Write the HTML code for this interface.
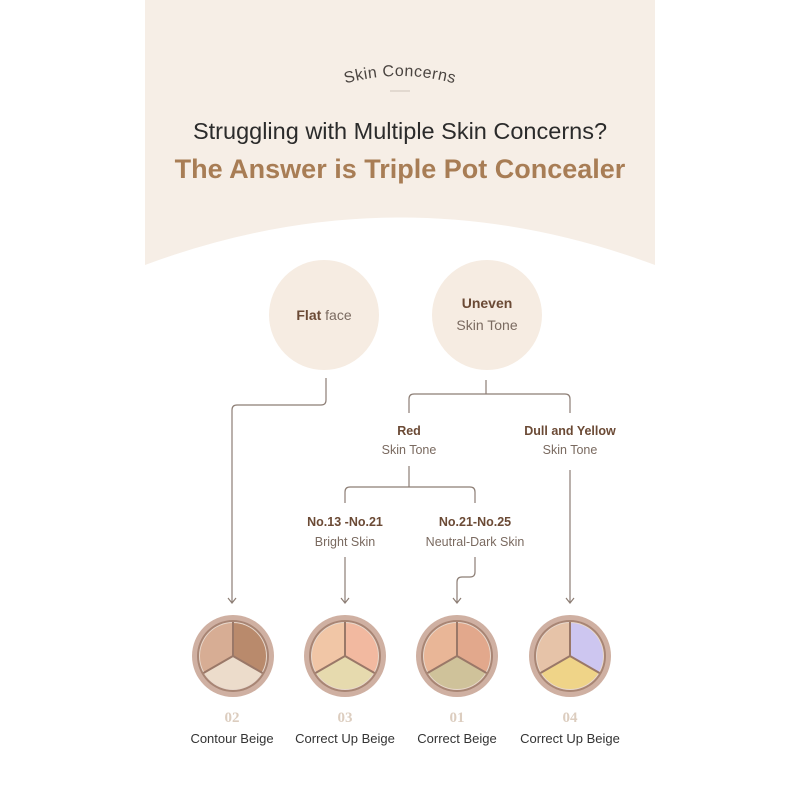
<!DOCTYPE html>
<html><head><meta charset="utf-8"><style>
html,body{margin:0;padding:0;background:#fff;width:800px;height:800px;overflow:hidden}
svg{display:block}
</style></head><body>
<svg width="800" height="800" viewBox="0 0 800 800" xmlns="http://www.w3.org/2000/svg" font-family="Liberation Sans, sans-serif">
<defs>
<path id="arc" d="M320,92 Q400,60 480,92"/>
</defs>
<path d="M145,0 H655 V265 Q400,170 145,265 Z" fill="#f6eee6"/>
<text font-size="16" fill="#4a4440" letter-spacing="0.5"><textPath href="#arc" startOffset="50%" text-anchor="middle">Skin Concerns</textPath></text>
<line x1="390" y1="91" x2="410" y2="91" stroke="#cfc4ba" stroke-width="1"/>
<text x="400" y="139" font-size="23.5" fill="#2b2b2b" text-anchor="middle" font-weight="500">Struggling with Multiple Skin Concerns?</text>
<text x="400" y="178" font-size="27" fill="#a87d55" text-anchor="middle" font-weight="bold">The Answer is Triple Pot Concealer</text>

<circle cx="324" cy="315" r="55" fill="#f6ece2"/>
<circle cx="487" cy="315" r="55" fill="#f6ece2"/>
<text x="324" y="320" font-size="14" text-anchor="middle" fill="#7a6a60"><tspan font-weight="bold" fill="#6b4a35">Flat</tspan> face</text>
<text x="487" y="308" font-size="14" text-anchor="middle" font-weight="bold" fill="#6b4a35">Uneven</text>
<text x="487" y="330" font-size="14" text-anchor="middle" fill="#7a6a60">Skin Tone</text>

<g fill="none" stroke="#8c7d74" stroke-width="1.2">
<path d="M326,378 V400 Q326,405 321,405 H237 Q232,405 232,410 V602"/>
<path d="M486,380 V394"/>
<path d="M409,413 V399 Q409,394 414,394 H565 Q570,394 570,399 V413"/>
<path d="M409,466 V487"/>
<path d="M345,503 V492 Q345,487 350,487 H470 Q475,487 475,492 V503"/>
<path d="M345,557 V602"/>
<path d="M475,557 V572 Q475,577 470,577 H462 Q457,577 457,582 V602"/>
<path d="M570,470 V602"/>
<path d="M228,598 L232,603 L236,598 M341,598 L345,603 L349,598 M453,598 L457,603 L461,598 M566,598 L570,603 L574,598"/>
</g>

<g font-size="12.5" text-anchor="middle">
<text x="409" y="435" font-weight="bold" fill="#6b4a35">Red</text>
<text x="409" y="454" fill="#7a6a60">Skin Tone</text>
<text x="570" y="435" font-weight="bold" fill="#6b4a35">Dull and Yellow</text>
<text x="570" y="454" fill="#7a6a60">Skin Tone</text>
<text x="345" y="526" font-weight="bold" fill="#6b4a35">No.13 -No.21</text>
<text x="345" y="546" fill="#7a6a60">Bright Skin</text>
<text x="475" y="526" font-weight="bold" fill="#6b4a35">No.21-No.25</text>
<text x="475" y="546" fill="#7a6a60">Neutral-Dark Skin</text>
</g>

<g>
<g transform="translate(233,656)">
<circle r="41" fill="#cfb0a2"/><circle r="36" fill="#a88574"/><circle r="34" fill="#e8d8cc"/>
<path d="M0,0 L0,-33 A33,33 0 0 0 -28.6,16.5 Z" fill="#d7ad94"/>
<path d="M0,0 L0,-33 A33,33 0 0 1 28.6,16.5 Z" fill="#b98a6c"/>
<path d="M0,0 L-28.6,16.5 A33,33 0 0 0 28.6,16.5 Z" fill="#ecdccb"/>
<path d="M0,0 V-34 M0,0 L-29.5,17 M0,0 L29.5,17" stroke="#9a7868" stroke-width="2"/>
</g>
<g transform="translate(345,656)">
<circle r="41" fill="#cfb0a2"/><circle r="36" fill="#a88574"/><circle r="34" fill="#e8d8cc"/>
<path d="M0,0 L0,-33 A33,33 0 0 0 -28.6,16.5 Z" fill="#f1c6a6"/>
<path d="M0,0 L0,-33 A33,33 0 0 1 28.6,16.5 Z" fill="#f2b9a0"/>
<path d="M0,0 L-28.6,16.5 A33,33 0 0 0 28.6,16.5 Z" fill="#e6daae"/>
<path d="M0,0 V-34 M0,0 L-29.5,17 M0,0 L29.5,17" stroke="#9a7868" stroke-width="2"/>
</g>
<g transform="translate(457,656)">
<circle r="41" fill="#cfb0a2"/><circle r="36" fill="#a88574"/><circle r="34" fill="#e8d8cc"/>
<path d="M0,0 L0,-33 A33,33 0 0 0 -28.6,16.5 Z" fill="#e9b697"/>
<path d="M0,0 L0,-33 A33,33 0 0 1 28.6,16.5 Z" fill="#e2a88c"/>
<path d="M0,0 L-28.6,16.5 A33,33 0 0 0 28.6,16.5 Z" fill="#cfc29a"/>
<path d="M0,0 V-34 M0,0 L-29.5,17 M0,0 L29.5,17" stroke="#9a7868" stroke-width="2"/>
</g>
<g transform="translate(570,656)">
<circle r="41" fill="#cfb0a2"/><circle r="36" fill="#a88574"/><circle r="34" fill="#e8d8cc"/>
<path d="M0,0 L0,-33 A33,33 0 0 0 -28.6,16.5 Z" fill="#e6c3a8"/>
<path d="M0,0 L0,-33 A33,33 0 0 1 28.6,16.5 Z" fill="#cdc6f0"/>
<path d="M0,0 L-28.6,16.5 A33,33 0 0 0 28.6,16.5 Z" fill="#efd488"/>
<path d="M0,0 V-34 M0,0 L-29.5,17 M0,0 L29.5,17" stroke="#9a7868" stroke-width="2"/>
</g>
</g>

<g font-family="Liberation Serif, serif" font-size="15" font-weight="bold" fill="#dccdbf" text-anchor="middle">
<text x="232" y="722">02</text><text x="345" y="722">03</text><text x="457" y="722">01</text><text x="570" y="722">04</text>
</g>
<g font-size="13" fill="#333" text-anchor="middle">
<text x="232" y="743">Contour Beige</text><text x="345" y="743">Correct Up Beige</text><text x="457" y="743">Correct Beige</text><text x="570" y="743">Correct Up Beige</text>
</g>
</svg>
</body></html>
